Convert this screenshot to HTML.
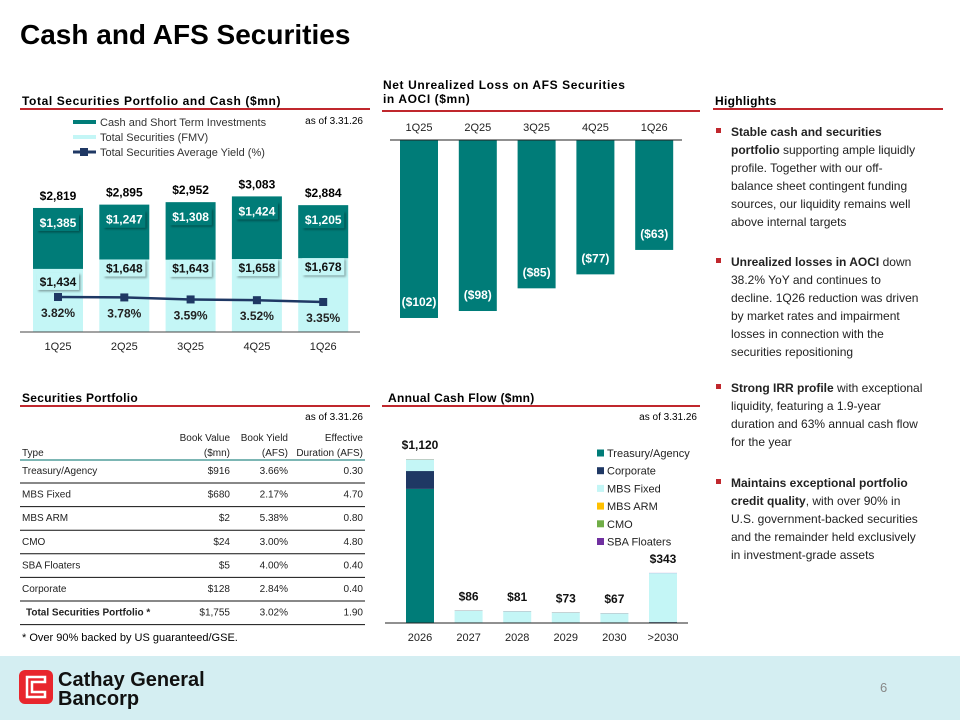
<!DOCTYPE html>
<html><head><meta charset="utf-8"><style>
html,body{margin:0;padding:0;background:#fff;}
svg{display:block;font-family:"Liberation Sans",Arial,sans-serif;}
</style></head><body>
<svg id="page" width="960" height="720" viewBox="0 0 960 720" xmlns="http://www.w3.org/2000/svg">
<defs>
<filter id="sh" x="-20%" y="-20%" width="150%" height="160%"><feDropShadow dx="1.5" dy="1.5" stdDeviation="1" flood-color="#000" flood-opacity="0.35"/></filter>
</defs>
<text x="20" y="44" font-size="28" font-weight="bold" fill="#000">Cash and AFS Securities</text>

<!-- Section titles -->
<text x="22" y="105" font-size="12" font-weight="bold" letter-spacing="0.6">Total Securities Portfolio and Cash ($mn)</text>
<rect x="20" y="108" width="350" height="2" fill="#c0272d"/>
<text x="383" y="89" font-size="12" font-weight="bold" letter-spacing="0.6"><tspan x="383">Net Unrealized Loss on AFS Securities</tspan><tspan x="383" dy="14">in AOCI ($mn)</tspan></text>
<rect x="382" y="110" width="318" height="2" fill="#c0272d"/>
<text x="715" y="105" font-size="12" font-weight="bold" letter-spacing="0.3">Highlights</text>
<rect x="713" y="108" width="230" height="2" fill="#c0272d"/>
<text x="22" y="402" font-size="12" font-weight="bold" letter-spacing="0.3">Securities Portfolio</text>
<rect x="20" y="405" width="350" height="2" fill="#c0272d"/>
<text x="388" y="402" font-size="12" font-weight="bold" letter-spacing="0.3">Annual Cash Flow ($mn)</text>
<rect x="382" y="405" width="318" height="2" fill="#c0272d"/>

<text x="363" y="124" font-size="10" text-anchor="end">as of 3.31.26</text>
<text x="363" y="420" font-size="10" text-anchor="end">as of 3.31.26</text>
<text x="697" y="420" font-size="10" text-anchor="end">as of 3.31.26</text>

<!-- Legend chart1 -->
<g>
<rect x="73" y="120" width="23" height="4" fill="#007c78"/>
<text x="100" y="126" font-size="11" fill="#333">Cash and Short Term Investments</text>
<rect x="73" y="135" width="23" height="4" fill="#c4f6f6"/>
<text x="100" y="141" font-size="11" fill="#333">Total Securities (FMV)</text>
<line x1="73" y1="152" x2="96" y2="152" stroke="#1f3864" stroke-width="3"/>
<rect x="80" y="148" width="8" height="8" fill="#1f3864"/>
<text x="100" y="156" font-size="11" fill="#333">Total Securities Average Yield (%)</text>
</g>
<g id="chart1"></g>
<g id="chart2"></g>
<g id="table"></g>
<text x="22" y="641" font-size="11">* Over 90% backed by US guaranteed/GSE.</text>
<g id="chart4"></g>

<!-- Highlights -->
<g font-size="12" fill="#222">
<rect x="716" y="128" width="5" height="5" fill="#c0272d"/>
<text x="731" y="136"><tspan x="731" font-weight="bold">Stable cash and securities</tspan><tspan x="731" dy="18"><tspan font-weight="bold">portfolio</tspan> supporting ample liquidly</tspan><tspan x="731" dy="18">profile. Together with our off-</tspan><tspan x="731" dy="18">balance sheet contingent funding</tspan><tspan x="731" dy="18">sources, our liquidity remains well</tspan><tspan x="731" dy="18">above internal targets</tspan></text>
<rect x="716" y="258" width="5" height="5" fill="#c0272d"/>
<text x="731" y="266"><tspan x="731"><tspan font-weight="bold">Unrealized losses in AOCI</tspan> down</tspan><tspan x="731" dy="18">38.2% YoY and continues to</tspan><tspan x="731" dy="18">decline. 1Q26 reduction was driven</tspan><tspan x="731" dy="18">by market rates and impairment</tspan><tspan x="731" dy="18">losses in connection with the</tspan><tspan x="731" dy="18">securities repositioning</tspan></text>
<rect x="716" y="384" width="5" height="5" fill="#c0272d"/>
<text x="731" y="392"><tspan x="731"><tspan font-weight="bold">Strong IRR profile</tspan> with exceptional</tspan><tspan x="731" dy="18">liquidity, featuring a 1.9-year</tspan><tspan x="731" dy="18">duration and 63% annual cash flow</tspan><tspan x="731" dy="18">for the year</tspan></text>
<rect x="716" y="479" width="5" height="5" fill="#c0272d"/>
<text x="731" y="487"><tspan x="731" font-weight="bold">Maintains exceptional portfolio</tspan><tspan x="731" dy="18"><tspan font-weight="bold">credit quality</tspan>, with over 90% in</tspan><tspan x="731" dy="18">U.S. government-backed securities</tspan><tspan x="731" dy="18">and the remainder held exclusively</tspan><tspan x="731" dy="18">in investment-grade assets</tspan></text>
</g>

<!-- Footer -->
<rect x="0" y="656" width="960" height="64" fill="#d4eef2"/>
<g>
<rect x="19" y="670" width="34" height="34" rx="6" fill="#e8262d"/>
<path d="M45 677 H27 V697 H45 V692 H32 V682 H45 Z" fill="none" stroke="#fff" stroke-width="2.5"/>
<text x="58" y="686" font-size="20" font-weight="bold" fill="#111"><tspan x="58">Cathay General</tspan><tspan x="58" dy="19">Bancorp</tspan></text>
</g>
<text x="880" y="692" font-size="13" fill="#888">6</text>
</svg>
<script>
// ---- Chart 1 data ----
const c1Cats = ["1Q25","2Q25","3Q25","4Q25","1Q26"];
const c1Securities = [1434,1648,1643,1658,1678];
const c1Cash = [1385,1247,1308,1424,1205];
const c1Totals = [2819,2895,2952,3083,2884];
const c1Yield = [3.82,3.78,3.59,3.52,3.35];
// ---- Chart 2 data ----
const c2Cats = ["1Q25","2Q25","3Q25","4Q25","1Q26"];
const c2Loss = [-102,-98,-85,-77,-63];
// ---- Table data ----
const tTypes = ["Treasury/Agency","MBS Fixed","MBS ARM","CMO","SBA Floaters","Corporate","Total Securities Portfolio *"];
const tBook = ["$916","$680","$2","$24","$5","$128","$1,755"];
const tYield = ["3.66%","2.17%","5.38%","3.00%","4.00%","2.84%","3.02%"];
const tDur = ["0.30","4.70","0.80","4.80","0.40","0.40","1.90"];
// ---- Chart 4 data ----
const c4Cats = ["2026","2027","2028","2029","2030",">2030"];
const c4Treasury = [916,0,0,0,0,0];
const c4Corporate = [122,0,0,0,0,6];
const c4MbsFixed = [79,84,79,71,65,335];
const c4MbsArm = [1,0,0,0,0,0];
const c4Cmo = [1,1,1,1,1,0];
const c4Sba = [1,1,1,1,1,1];
const c4Totals = [1120,86,81,73,67,343];
const c4SeriesNames = ["Treasury/Agency","Corporate","MBS Fixed","MBS ARM","CMO","SBA Floaters"];

const NS="http://www.w3.org/2000/svg";
function mk(parent,tag,attrs,text){const e=document.createElementNS(NS,tag);for(const k in attrs)e.setAttribute(k,attrs[k]);if(text!==undefined)e.textContent=text;parent.appendChild(e);return e;}
function money(v){return "$"+v.toLocaleString("en-US");}
const TEAL="#007c78",CYAN="#c4f6f6",NAVY="#1f3864";

// Chart 1
(function(){
  const g=document.getElementById("chart1");
  const base=332,k=0.044;
  const xC=i=>58+i*66.3, yV=v=>base-v*k, yY=v=>337.5-v*10.6;
  const bw=50;
  c1Cats.forEach((c,i)=>{
    const x=xC(i)-bw/2;
    let r=mk(g,"rect",{x:x,y:yV(c1Securities[i]),width:bw,height:c1Securities[i]*k,fill:CYAN});
    
    
    r=mk(g,"rect",{x:x,y:yV(c1Securities[i]+c1Cash[i]),width:bw,height:c1Cash[i]*k,fill:TEAL});
    
    
    let t=mk(g,"text",{x:xC(i),y:yV(c1Totals[i])-8,"font-size":12,"font-weight":"bold","text-anchor":"middle"},money(c1Totals[i]));
    
    
    const cy=yV(c1Securities[i]+c1Cash[i])+18;
    let b=mk(g,"rect",{x:xC(i)-21,y:cy-12,width:42,height:17,fill:TEAL,filter:"url(#sh)"});
    
    
    t=mk(g,"text",{x:xC(i),y:cy+1,"font-size":12,"font-weight":"bold",fill:"#fff","text-anchor":"middle"},money(c1Cash[i]));
    
    
    const sy=i===0?yV(c1Securities[i])+16:yV(c1Securities[i])+12;
    b=mk(g,"rect",{x:xC(i)-21,y:sy-12,width:42,height:17,fill:CYAN,filter:"url(#sh)"});
    
    
    t=mk(g,"text",{x:xC(i),y:sy+1,"font-size":12,"font-weight":"bold",fill:"#111","text-anchor":"middle"},money(c1Securities[i]));
    
    
    t=mk(g,"text",{x:xC(i),y:350,"font-size":11,"text-anchor":"middle",fill:"#222"},c);
    
    
  });
  const ax=mk(g,"line",{x1:20,y1:base,x2:360,y2:base,stroke:"#444","stroke-width":1});
  
  
  const pts=c1Yield.map((v,i)=>xC(i)+","+yY(v)).join(" ");
  const pl=mk(g,"polyline",{points:pts,fill:"none",stroke:NAVY,"stroke-width":2.5});
  
  
  c1Yield.forEach((v,i)=>{
    const m=mk(g,"rect",{x:xC(i)-4,y:yY(v)-4,width:8,height:8,fill:NAVY});
    
    
    const t=mk(g,"text",{x:xC(i),y:yY(v)+20,"font-size":12,"font-weight":"bold","text-anchor":"middle",fill:"#222"},v.toFixed(2)+"%");
    
    
  });
})();

// Chart 2
(function(){
  const g=document.getElementById("chart2");
  const base=140,k=1.745,bw=38;
  const xC=i=>419+i*58.8, yV=v=>base-v*k;
  c2Cats.forEach((c,i)=>{
    const r=mk(g,"rect",{x:xC(i)-bw/2,y:base,width:bw,height:yV(c2Loss[i])-base,fill:TEAL});
    
    
    let t=mk(g,"text",{x:xC(i),y:yV(c2Loss[i])-12,"font-size":12,"font-weight":"bold",fill:"#fff","text-anchor":"middle"},"($"+(-c2Loss[i])+")");
    
    
    t=mk(g,"text",{x:xC(i),y:131,"font-size":11,"text-anchor":"middle",fill:"#222"},c);
    
    
  });
  const ax=mk(g,"line",{x1:390,y1:base,x2:682,y2:base,stroke:"#222","stroke-width":1});
  
  
})();

// Table
(function(){
  const g=document.getElementById("table");
  const fs=10;
  const hdr=[["Book Value","($mn)",230],["Book Yield","(AFS)",288],["Effective","Duration (AFS)",363]];
  let t=mk(g,"text",{x:22,y:456,"font-size":fs,fill:"#222"},"Type");
  
  
  hdr.forEach((h,j)=>{
    const e=mk(g,"text",{x:h[2],y:441,"font-size":fs,fill:"#222","text-anchor":"end"},h[0]);
    
    
    const f=mk(g,"text",{x:h[2],y:456,"font-size":fs,fill:"#222","text-anchor":"end"},h[1]);
    
    
  });
  const hl=mk(g,"line",{x1:20,y1:460,x2:365,y2:460,stroke:"#2e8a86","stroke-width":1.2});
  
  
  tTypes.forEach((ty,i)=>{
    const y=474+i*23.6;
    const last=i===tTypes.length-1;
    const a=mk(g,"text",{x:last?26:22,y:y,"font-size":fs,fill:"#222","font-weight":last?"bold":"normal"},ty);
    
    
    const b=mk(g,"text",{x:230,y:y,"font-size":fs,fill:"#222","text-anchor":"end"},tBook[i]);
    
    
    const c=mk(g,"text",{x:288,y:y,"font-size":fs,fill:"#222","text-anchor":"end"},tYield[i]);
    
    
    const d=mk(g,"text",{x:363,y:y,"font-size":fs,fill:"#222","text-anchor":"end"},tDur[i]);
    
    
    const l=mk(g,"line",{x1:20,y1:y+9,x2:365,y2:y+9,stroke:"#111","stroke-width":1});
    
    
  });
})();

// Chart 4
(function(){
  const g=document.getElementById("chart4");
  const base=623,k=0.1464,bw=28;
  const xC=i=>420+i*48.6;
  const series=[c4Treasury,c4Corporate,c4MbsFixed,c4MbsArm,c4Cmo,c4Sba];
  const colors=[TEAL,NAVY,CYAN,"#ffc000","#70ad47","#7030a0"];
  c4Cats.forEach((c,i)=>{
    let cum=0;
    series.forEach((s,j)=>{
      const v=s[i]; if(!v) return;
      const r=mk(g,"rect",{x:xC(i)-bw/2,y:base-(cum+v)*k,width:bw,height:v*k,fill:colors[j]});
      
      
      cum+=v;
    });
    let t=mk(g,"text",{x:xC(i),y:base-c4Totals[i]*k-10,"font-size":12,"font-weight":"bold","text-anchor":"middle",fill:"#111"},money(c4Totals[i]));
    
    
    t=mk(g,"text",{x:xC(i),y:641,"font-size":11,"text-anchor":"middle",fill:"#222"},c);
    
    
  });
  const ax=mk(g,"line",{x1:385,y1:base,x2:688,y2:base,stroke:"#222","stroke-width":1});
  
  
  c4SeriesNames.forEach((n,j)=>{
    const y=453+j*17.7;
    const s=mk(g,"rect",{x:597,y:y-3.5,width:7,height:7,fill:colors[j]});
    
    
    const t=mk(g,"text",{x:607,y:y+4,"font-size":11,fill:"#222"},n);
    
    
  });
})();
</script>
</body></html>
